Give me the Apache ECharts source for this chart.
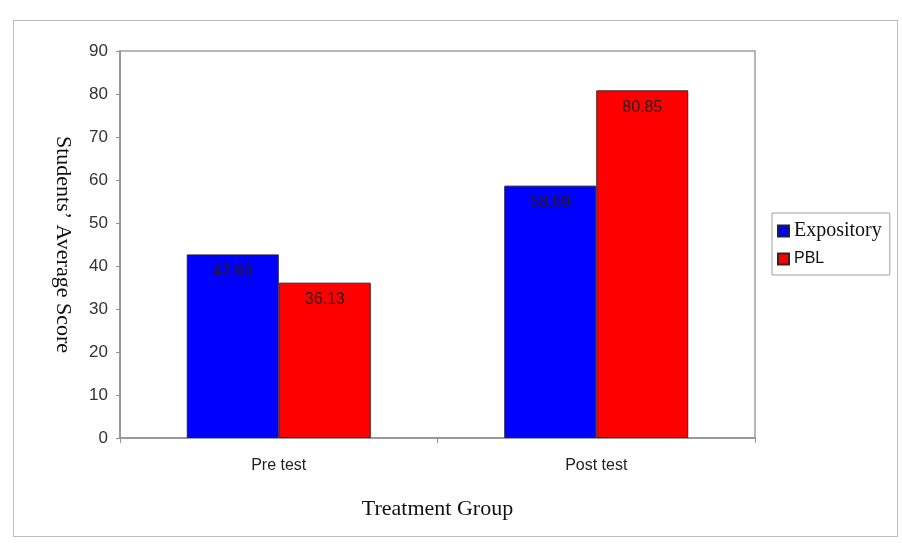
<!DOCTYPE html>
<html>
<head>
<meta charset="utf-8">
<script src="https://cdn.jsdelivr.net/npm/echarts@6/dist/echarts.min.js"></script>
<style>
html,body{margin:0;padding:0;background:#fff;}
#frame{position:absolute;left:13px;top:20px;width:885px;height:517px;border:1px solid #bdbdbd;box-sizing:border-box;}
#c{position:absolute;left:0;top:0;width:902px;height:544px;}
</style>
</head>
<body>
<div id="frame"></div>
<div id="c"></div>
<script>
const categories = ['Pre test', 'Post test'];
const expository = [42.69, 58.69];
const pbl = [36.13, 80.85];
const seriesNames = ['Expository', 'PBL'];

const chart = echarts.init(document.getElementById('c'));
const labelStyle = {
  show: true, position: 'insideTop', distance: 9,
  color: '#2a1a1a', fontFamily: 'Arial, Liberation Sans', fontSize: 16
};
chart.setOption({
  animation: false,
  grid: {left: 120, top: 51, width: 635, height: 387, show: true, borderColor: '#a0a0a0', borderWidth: 1.5},
  legend: {
    orient: 'vertical', left: 772, top: 213, itemWidth: 11, itemHeight: 11, itemGap: 10, icon: 'rect',
    padding: [8, 8, 8, 5], borderColor: '#a0a0a0', borderWidth: 1,
    data: [
      {name: seriesNames[0], textStyle: {fontFamily: 'Liberation Serif, Times New Roman', fontSize: 20, color: '#111'}},
      {name: seriesNames[1], textStyle: {fontFamily: 'Arial, Liberation Sans', fontSize: 16, color: '#111'}}
    ]
  },
  xAxis: {
    type: 'category', data: categories,
    name: 'Treatment Group', nameLocation: 'middle', nameGap: 60,
    nameTextStyle: {fontFamily: 'Liberation Serif, Times New Roman', fontSize: 22, color: '#111'},
    axisLine: {lineStyle: {color: '#909090', width: 1.5}},
    axisTick: {show: true, length: 5, lineStyle: {color: '#909090'}},
    axisLabel: {fontFamily: 'Arial, Liberation Sans', fontSize: 16, color: '#222', margin: 20}
  },
  yAxis: {
    type: 'value', min: 0, max: 90, interval: 10,
    name: 'Students\u2019 Average Score', nameLocation: 'middle', nameGap: 46, nameRotate: -90,
    nameTextStyle: {fontFamily: 'Liberation Serif, Times New Roman', fontSize: 22, color: '#111'},
    axisLine: {show: true, lineStyle: {color: '#909090', width: 1.5}},
    axisTick: {show: true, length: 4, lineStyle: {color: '#909090'}},
    axisLabel: {fontFamily: 'Arial, Liberation Sans', fontSize: 17, color: '#333', margin: 12},
    splitLine: {show: false}
  },
  series: [
    {name: seriesNames[0], type: 'bar', data: expository, barWidth: 92, barGap: '0%',
     itemStyle: {color: '#0000ff', borderColor: '#202040', borderWidth: 1}, label: labelStyle},
    {name: seriesNames[1], type: 'bar', data: pbl, barWidth: 92, barGap: '0%',
     itemStyle: {color: '#ff0000', borderColor: '#402020', borderWidth: 1}, label: labelStyle}
  ]
});
</script>
</body>
</html>
